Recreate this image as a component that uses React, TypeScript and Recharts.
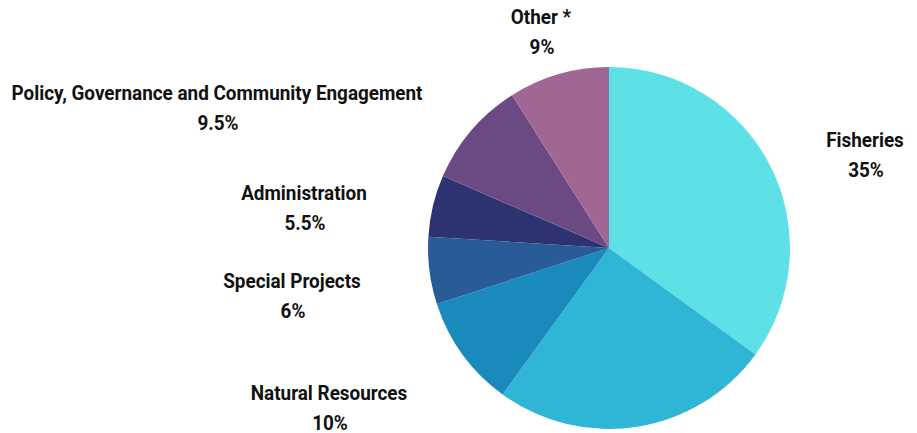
import React from 'react';
import { PieChart, Pie, Cell } from 'recharts';

const categories = [
  'Fisheries',
  '',
  'Natural Resources',
  'Special Projects',
  'Administration',
  'Policy, Governance and Community Engagement',
  'Other *',
];
const values = [35, 25, 10, 6, 5.5, 9.5, 9];
const valueLabels = ['35%', '', '10%', '6%', '5.5%', '9.5%', '9%'];

const COLORS = ['#5de1e6', '#2fb5d6', '#1a8abd', '#295b99', '#2d3370', '#6b4982', '#a06694'];

// label centre (first line) relative to pie centre
const LABEL_OFFSETS: [number, number][] = [
  [256, -108],
  [0, 0],
  [-280, 145],
  [-317, 33],
  [-305, -55],
  [-392, -155],
  [-68, -231],
];

const data = categories.map((name, i) => ({ name, value: values[i], pct: valueLabels[i] }));

const textStyle = { fontFamily: 'Roboto, sans-serif', fontSize: 20, fontWeight: 700 };

const renderLabel = (props: any) => {
  const { cx, cy, index } = props;
  const item = data[index];
  if (!item.name) return null;
  const [dx, dy] = LABEL_OFFSETS[index];
  return (
    <g transform={`translate(${cx + dx},${cy + dy}) scale(0.945,1)`}>
      <text x={0} y={0} textAnchor="middle" dominantBaseline="central" fill="#111" style={textStyle}>
        {item.name}
      </text>
      <text x={1} y={30} textAnchor="middle" dominantBaseline="central" fill="#111" style={textStyle}>
        {item.pct}
      </text>
    </g>
  );
};

export default function App() {
  return (
    <div style={{ position: 'absolute', left: 0, top: 0, background: '#fff' }}>
      <PieChart width={917} height={433} margin={{ top: 0, right: 0, bottom: 0, left: 0 }}>
        <Pie
          data={data}
          dataKey="value"
          cx={609}
          cy={248}
          outerRadius={181}
          startAngle={90}
          endAngle={-270}
          stroke="none"
          label={renderLabel}
          labelLine={false}
          isAnimationActive={false}
        >
          {data.map((d, i) => (
            <Cell key={`cell-${i}`} fill={COLORS[i]} />
          ))}
        </Pie>
      </PieChart>
    </div>
  );
}
